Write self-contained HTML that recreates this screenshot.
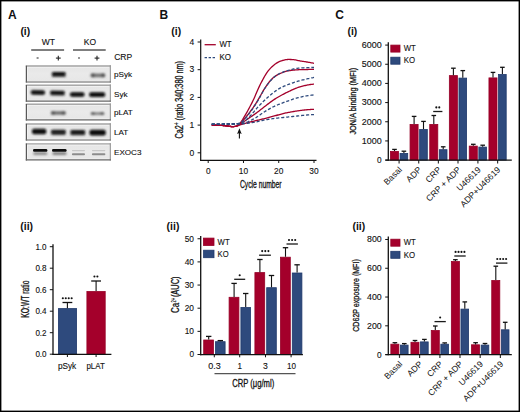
<!DOCTYPE html>
<html><head><meta charset="utf-8"><style>
html,body{margin:0;padding:0;background:#fff;overflow:hidden;width:520px;height:412px;}
svg{display:block;font-family:"Liberation Sans", sans-serif;}
</style></head><body>
<svg width="520" height="412" viewBox="0 0 520 412">
<rect width="520" height="412" fill="#fff"/>
<rect x="0.7" y="0.7" width="518.6" height="410.6" fill="none" stroke="#000" stroke-width="1.4"/>
<text x="8.0" y="19" font-size="12" font-weight="bold" fill="#111">A</text>
<text x="159.4" y="18.9" font-size="12" font-weight="bold" fill="#111">B</text>
<text x="335.2" y="19.1" font-size="12" font-weight="bold" fill="#111">C</text>
<text x="20.4" y="35.0" font-size="10" font-weight="bold" textLength="9.8" lengthAdjust="spacingAndGlyphs" fill="#111">(i)</text>
<text x="171.3" y="35.2" font-size="10" font-weight="bold" textLength="9.8" lengthAdjust="spacingAndGlyphs" fill="#111">(i)</text>
<text x="347.5" y="35.2" font-size="10" font-weight="bold" textLength="9.8" lengthAdjust="spacingAndGlyphs" fill="#111">(i)</text>
<text x="20.3" y="229.7" font-size="10" font-weight="bold" textLength="12.8" lengthAdjust="spacingAndGlyphs" fill="#111">(ii)</text>
<text x="166.6" y="229.7" font-size="10" font-weight="bold" textLength="12.8" lengthAdjust="spacingAndGlyphs" fill="#111">(ii)</text>
<text x="352.4" y="229.7" font-size="10" font-weight="bold" textLength="12.8" lengthAdjust="spacingAndGlyphs" fill="#111">(ii)</text>
<text x="48.4" y="44.6" font-size="8.5" text-anchor="middle" fill="#111" stroke="#111" stroke-width="0.12">WT</text>
<text x="90.0" y="44.5" font-size="8.5" text-anchor="middle" fill="#111" stroke="#111" stroke-width="0.12">KO</text>
<line x1="31.2" y1="50" x2="64.1" y2="50" stroke="#555" stroke-width="1.6"/>
<line x1="73" y1="50" x2="105.7" y2="50" stroke="#555" stroke-width="1.6"/>
<line x1="36.6" y1="58" x2="38.6" y2="58" stroke="#333" stroke-width="1.1"/>
<line x1="78.0" y1="58" x2="80.0" y2="58" stroke="#333" stroke-width="1.1"/>
<line x1="55.9" y1="58.1" x2="60.699999999999996" y2="58.1" stroke="#222" stroke-width="1.1"/>
<line x1="58.3" y1="55.7" x2="58.3" y2="60.5" stroke="#222" stroke-width="1.1"/>
<line x1="94.6" y1="58.1" x2="99.4" y2="58.1" stroke="#222" stroke-width="1.1"/>
<line x1="97" y1="55.7" x2="97" y2="60.5" stroke="#222" stroke-width="1.1"/>
<text x="114.2" y="60.2" font-size="8.5" fill="#111" stroke="#111" stroke-width="0.12">CRP</text>
<defs><filter id="bl" x="-50%" y="-50%" width="200%" height="200%"><feGaussianBlur stdDeviation="0.75"/></filter><filter id="bl2" x="-50%" y="-50%" width="200%" height="200%"><feGaussianBlur stdDeviation="0.6"/></filter><linearGradient id="bg" x1="0" y1="0" x2="0" y2="1"><stop offset="0" stop-color="#e4e4e4"/><stop offset="0.5" stop-color="#eaeaea"/><stop offset="1" stop-color="#e6e6e6"/></linearGradient></defs>
<rect x="25.80" y="65.30" width="85.10" height="17.30" fill="url(#bg)"/>
<rect x="27.30" y="67.20" width="82.10" height="14.00" fill="none" stroke="#f6f6f6" stroke-width="0.7"/>
<line x1="25.8" y1="66.0" x2="110.9" y2="66.0" stroke="#a9a9a9" stroke-width="1.4"/>
<line x1="110.3" y1="65.3" x2="110.3" y2="82.6" stroke="#999" stroke-width="1.2"/>
<line x1="26.4" y1="65.7" x2="26.4" y2="82.6" stroke="#585858" stroke-width="1.2"/>
<line x1="25.8" y1="82.0" x2="110.9" y2="82.0" stroke="#6c6c6c" stroke-width="1.2"/>
<text x="114.0" y="77.35" font-size="8.1" fill="#111" stroke="#111" stroke-width="0.12">pSyk</text>
<rect x="25.80" y="84.60" width="85.10" height="17.10" fill="url(#bg)"/>
<rect x="27.30" y="86.50" width="82.10" height="13.80" fill="none" stroke="#f6f6f6" stroke-width="0.7"/>
<line x1="25.8" y1="85.3" x2="110.9" y2="85.3" stroke="#a9a9a9" stroke-width="1.4"/>
<line x1="110.3" y1="84.6" x2="110.3" y2="101.7" stroke="#999" stroke-width="1.2"/>
<line x1="26.4" y1="85.0" x2="26.4" y2="101.7" stroke="#585858" stroke-width="1.2"/>
<line x1="25.8" y1="101.10000000000001" x2="110.9" y2="101.10000000000001" stroke="#6c6c6c" stroke-width="1.2"/>
<text x="114.0" y="96.55000000000001" font-size="8.1" fill="#111" stroke="#111" stroke-width="0.12">Syk</text>
<rect x="25.80" y="103.60" width="85.10" height="16.80" fill="url(#bg)"/>
<rect x="27.30" y="105.50" width="82.10" height="13.50" fill="none" stroke="#f6f6f6" stroke-width="0.7"/>
<line x1="25.8" y1="104.3" x2="110.9" y2="104.3" stroke="#a9a9a9" stroke-width="1.4"/>
<line x1="110.3" y1="103.6" x2="110.3" y2="120.4" stroke="#999" stroke-width="1.2"/>
<line x1="26.4" y1="104.0" x2="26.4" y2="120.4" stroke="#585858" stroke-width="1.2"/>
<line x1="25.8" y1="119.80000000000001" x2="110.9" y2="119.80000000000001" stroke="#6c6c6c" stroke-width="1.2"/>
<text x="114.0" y="115.4" font-size="8.1" fill="#111" stroke="#111" stroke-width="0.12">pLAT</text>
<rect x="25.80" y="123.30" width="85.10" height="17.30" fill="url(#bg)"/>
<rect x="27.30" y="125.20" width="82.10" height="14.00" fill="none" stroke="#f6f6f6" stroke-width="0.7"/>
<line x1="25.8" y1="124.0" x2="110.9" y2="124.0" stroke="#a9a9a9" stroke-width="1.4"/>
<line x1="110.3" y1="123.3" x2="110.3" y2="140.6" stroke="#999" stroke-width="1.2"/>
<line x1="26.4" y1="123.7" x2="26.4" y2="140.6" stroke="#585858" stroke-width="1.2"/>
<line x1="25.8" y1="140.0" x2="110.9" y2="140.0" stroke="#6c6c6c" stroke-width="1.2"/>
<text x="114.0" y="135.35" font-size="8.1" fill="#111" stroke="#111" stroke-width="0.12">LAT</text>
<rect x="25.80" y="143.20" width="85.10" height="17.20" fill="url(#bg)"/>
<rect x="27.30" y="145.10" width="82.10" height="13.90" fill="none" stroke="#f6f6f6" stroke-width="0.7"/>
<line x1="25.8" y1="143.89999999999998" x2="110.9" y2="143.89999999999998" stroke="#a9a9a9" stroke-width="1.4"/>
<line x1="110.3" y1="143.2" x2="110.3" y2="160.4" stroke="#999" stroke-width="1.2"/>
<line x1="26.4" y1="143.6" x2="26.4" y2="160.4" stroke="#585858" stroke-width="1.2"/>
<line x1="25.8" y1="159.8" x2="110.9" y2="159.8" stroke="#6c6c6c" stroke-width="1.2"/>
<text x="114.0" y="155.20000000000002" font-size="8.1" fill="#111" stroke="#111" stroke-width="0.12">EXOC3</text>
<defs><filter id="b50" x="-30%" y="-150%" width="160%" height="400%"><feGaussianBlur stdDeviation="0.5"/></filter><filter id="b60" x="-30%" y="-150%" width="160%" height="400%"><feGaussianBlur stdDeviation="0.6"/></filter><filter id="b70" x="-30%" y="-150%" width="160%" height="400%"><feGaussianBlur stdDeviation="0.7"/></filter><filter id="b80" x="-30%" y="-150%" width="160%" height="400%"><feGaussianBlur stdDeviation="0.8"/></filter><filter id="b90" x="-30%" y="-150%" width="160%" height="400%"><feGaussianBlur stdDeviation="0.9"/></filter><filter id="b100" x="-30%" y="-150%" width="160%" height="400%"><feGaussianBlur stdDeviation="1.0"/></filter><filter id="b110" x="-30%" y="-150%" width="160%" height="400%"><feGaussianBlur stdDeviation="1.1"/></filter></defs>
<g filter="url(#b90)" transform="rotate(0.0 58.75 74.50)"><rect x="51.70" y="74.50" width="14.10" height="2.50" rx="1.8" fill="#333"/><rect x="51.70" y="72.00" width="14.10" height="3.00" rx="1.8" fill="#080808"/></g>
<g filter="url(#b90)" transform="rotate(0.0 97.95 75.30)"><rect x="90.80" y="73.40" width="14.30" height="3.80" rx="1.90" fill="#767676"/><rect x="90.80" y="73.40" width="4" height="3.80" rx="1" fill="#555"/><rect x="101.10" y="73.40" width="4" height="3.80" rx="1" fill="#555"/></g>
<g filter="url(#b90)" transform="rotate(1.2 37.90 92.40)"><rect x="30.70" y="90.15" width="14.40" height="4.50" rx="2.20" fill="#080808"/></g>
<g filter="url(#b90)" transform="rotate(1.0 57.45 93.10)"><rect x="50.10" y="93.10" width="14.70" height="2.35" rx="1.8" fill="#282828"/><rect x="50.10" y="90.75" width="14.70" height="2.82" rx="1.8" fill="#080808"/></g>
<g filter="url(#b90)" transform="rotate(0.0 77.25 94.50)"><rect x="69.90" y="92.30" width="14.70" height="4.40" rx="2.20" fill="#080808"/></g>
<g filter="url(#b90)" transform="rotate(0.0 97.20 94.70)"><rect x="89.10" y="92.35" width="16.20" height="4.70" rx="2.20" fill="#080808"/></g>
<g filter="url(#b80)" transform="rotate(0.0 58.30 113.00)"><rect x="51.00" y="111.20" width="14.60" height="3.60" rx="1.80" fill="#707070"/><rect x="51.00" y="111.20" width="4" height="3.60" rx="1" fill="#5a5a5a"/><rect x="61.60" y="111.20" width="4" height="3.60" rx="1" fill="#5a5a5a"/></g>
<g filter="url(#b80)" transform="rotate(0.0 97.55 113.60)"><rect x="90.90" y="112.15" width="13.30" height="2.90" rx="1.45" fill="#858585"/><rect x="90.90" y="112.15" width="4" height="2.90" rx="1" fill="#5e5e5e"/><rect x="100.20" y="112.15" width="4" height="2.90" rx="1" fill="#5e5e5e"/></g>
<g filter="url(#b100)" transform="rotate(0.0 39.15 131.50)"><rect x="31.90" y="128.70" width="14.50" height="5.60" rx="2.20" fill="#101010"/></g>
<g filter="url(#b100)" transform="rotate(0.0 58.45 132.30)"><rect x="50.90" y="132.30" width="15.10" height="2.60" rx="1.8" fill="#2c2c2c"/><rect x="50.90" y="129.70" width="15.10" height="3.12" rx="1.8" fill="#181818"/></g>
<g filter="url(#b100)" transform="rotate(0.0 77.80 132.60)"><rect x="70.20" y="132.60" width="15.20" height="2.60" rx="1.8" fill="#2a2a2a"/><rect x="70.20" y="130.00" width="15.20" height="3.12" rx="1.8" fill="#161616"/></g>
<g filter="url(#b100)" transform="rotate(0.0 97.60 132.60)"><rect x="89.40" y="129.70" width="16.40" height="5.80" rx="2.20" fill="#0c0c0c"/></g>
<g filter="url(#b80)" transform="rotate(0.0 40.30 153.50)"><rect x="33.20" y="152.00" width="14.20" height="3.00" rx="1.50" fill="#8e8e8e"/></g>
<g filter="url(#b80)" transform="rotate(0.0 59.50 153.50)"><rect x="52.40" y="152.00" width="14.20" height="3.00" rx="1.50" fill="#808080"/></g>
<g filter="url(#b60)" transform="rotate(0.0 40.20 150.40)"><rect x="33.00" y="149.05" width="14.40" height="2.70" rx="1.35" fill="#0a0a0a"/></g>
<g filter="url(#b60)" transform="rotate(0.0 59.30 150.40)"><rect x="52.00" y="149.05" width="14.60" height="2.70" rx="1.35" fill="#0a0a0a"/></g>
<g filter="url(#b60)" transform="rotate(0.0 78.45 150.60)"><rect x="71.90" y="149.90" width="13.10" height="1.40" rx="0.70" fill="#c8c8c8"/></g>
<g filter="url(#b60)" transform="rotate(0.0 78.45 154.30)"><rect x="71.90" y="153.35" width="13.10" height="1.90" rx="0.95" fill="#8c8c8c"/></g>
<g filter="url(#b60)" transform="rotate(0.0 98.65 150.60)"><rect x="91.90" y="149.90" width="13.50" height="1.40" rx="0.70" fill="#c8c8c8"/></g>
<g filter="url(#b60)" transform="rotate(0.0 98.65 154.30)"><rect x="91.90" y="153.35" width="13.50" height="1.90" rx="0.95" fill="#8c8c8c"/></g>
<line x1="49.8" y1="354.2" x2="53.0" y2="354.2" stroke="#111" stroke-width="1.0"/>
<text x="46.6" y="357.09999999999997" font-size="8.2" text-anchor="end" textLength="11.2" lengthAdjust="spacingAndGlyphs" fill="#111" stroke="#111" stroke-width="0.12">0.0</text>
<line x1="49.8" y1="332.7" x2="53.0" y2="332.7" stroke="#111" stroke-width="1.0"/>
<text x="46.6" y="335.59999999999997" font-size="8.2" text-anchor="end" textLength="11.2" lengthAdjust="spacingAndGlyphs" fill="#111" stroke="#111" stroke-width="0.12">0.2</text>
<line x1="49.8" y1="311.2" x2="53.0" y2="311.2" stroke="#111" stroke-width="1.0"/>
<text x="46.6" y="314.09999999999997" font-size="8.2" text-anchor="end" textLength="11.2" lengthAdjust="spacingAndGlyphs" fill="#111" stroke="#111" stroke-width="0.12">0.4</text>
<line x1="49.8" y1="289.7" x2="53.0" y2="289.7" stroke="#111" stroke-width="1.0"/>
<text x="46.6" y="292.59999999999997" font-size="8.2" text-anchor="end" textLength="11.2" lengthAdjust="spacingAndGlyphs" fill="#111" stroke="#111" stroke-width="0.12">0.6</text>
<line x1="49.8" y1="268.2" x2="53.0" y2="268.2" stroke="#111" stroke-width="1.0"/>
<text x="46.6" y="271.09999999999997" font-size="8.2" text-anchor="end" textLength="11.2" lengthAdjust="spacingAndGlyphs" fill="#111" stroke="#111" stroke-width="0.12">0.8</text>
<line x1="49.8" y1="246.7" x2="53.0" y2="246.7" stroke="#111" stroke-width="1.0"/>
<text x="46.6" y="249.6" font-size="8.2" text-anchor="end" textLength="11.2" lengthAdjust="spacingAndGlyphs" fill="#111" stroke="#111" stroke-width="0.12">1.0</text>
<text transform="translate(28.6,299.2) rotate(-90)" x="0" y="0" font-size="10" text-anchor="middle" textLength="37.2" lengthAdjust="spacingAndGlyphs" fill="#111" stroke="#111" stroke-width="0.3">KO:WT ratio</text>
<rect x="58.40" y="308.60" width="18.20" height="45.60" fill="#2e4a7d" stroke="#1f386b" stroke-width="0.8"/>
<rect x="86.90" y="291.50" width="18.30" height="62.70" fill="#a4002b" stroke="#970027" stroke-width="0.8"/>
<line x1="67.4" y1="302.5" x2="67.4" y2="308.2" stroke="#111" stroke-width="1.1"/>
<line x1="62.50000000000001" y1="302.5" x2="72.30000000000001" y2="302.5" stroke="#111" stroke-width="1.3"/>
<line x1="96.1" y1="281.0" x2="96.1" y2="291.1" stroke="#111" stroke-width="1.1"/>
<line x1="91.19999999999999" y1="281.0" x2="101.0" y2="281.0" stroke="#111" stroke-width="1.3"/>
<circle cx="62.83" cy="298.20" r="1.05" fill="#111"/>
<circle cx="65.78" cy="298.20" r="1.05" fill="#111"/>
<circle cx="68.73" cy="298.20" r="1.05" fill="#111"/>
<circle cx="71.68" cy="298.20" r="1.05" fill="#111"/>
<line x1="53.0" y1="244.3" x2="53.0" y2="354.9" stroke="#111" stroke-width="1.3"/>
<line x1="52.4" y1="354.3" x2="111.4" y2="354.3" stroke="#111" stroke-width="1.3"/>
<circle cx="94.43" cy="276.50" r="1.05" fill="#111"/>
<circle cx="97.38" cy="276.50" r="1.05" fill="#111"/>
<line x1="67.4" y1="354.2" x2="67.4" y2="357" stroke="#111" stroke-width="1.0"/>
<line x1="96.1" y1="354.2" x2="96.1" y2="357" stroke="#111" stroke-width="1.0"/>
<text x="67.1" y="369.0" font-size="8.5" text-anchor="middle" textLength="18.3" lengthAdjust="spacingAndGlyphs" fill="#111" stroke="#111" stroke-width="0.12">pSyk</text>
<text x="95.6" y="369.0" font-size="8.5" text-anchor="middle" textLength="18.4" lengthAdjust="spacingAndGlyphs" fill="#111" stroke="#111" stroke-width="0.12">pLAT</text>
<line x1="200.7" y1="39.6" x2="200.7" y2="160.9" stroke="#111" stroke-width="1.2"/>
<line x1="200.1" y1="160.3" x2="316.5" y2="160.3" stroke="#111" stroke-width="1.2"/>
<line x1="197.6" y1="152.8" x2="200.7" y2="152.8" stroke="#111" stroke-width="1.0"/>
<text x="194.2" y="155.5" font-size="8.5" text-anchor="end" fill="#111" stroke="#111" stroke-width="0.12">0</text>
<line x1="197.6" y1="125.10000000000001" x2="200.7" y2="125.10000000000001" stroke="#111" stroke-width="1.0"/>
<text x="194.2" y="127.80000000000001" font-size="8.5" text-anchor="end" fill="#111" stroke="#111" stroke-width="0.12">1</text>
<line x1="197.6" y1="97.4" x2="200.7" y2="97.4" stroke="#111" stroke-width="1.0"/>
<text x="194.2" y="100.10000000000001" font-size="8.5" text-anchor="end" fill="#111" stroke="#111" stroke-width="0.12">2</text>
<line x1="197.6" y1="69.70000000000002" x2="200.7" y2="69.70000000000002" stroke="#111" stroke-width="1.0"/>
<text x="194.2" y="72.40000000000002" font-size="8.5" text-anchor="end" fill="#111" stroke="#111" stroke-width="0.12">3</text>
<line x1="197.6" y1="42.000000000000014" x2="200.7" y2="42.000000000000014" stroke="#111" stroke-width="1.0"/>
<text x="194.2" y="44.70000000000002" font-size="8.5" text-anchor="end" fill="#111" stroke="#111" stroke-width="0.12">4</text>
<line x1="208.2" y1="160.3" x2="208.2" y2="163.0" stroke="#111" stroke-width="1.0"/>
<text x="208.2" y="174.3" font-size="8.5" text-anchor="middle" textLength="4.6" lengthAdjust="spacingAndGlyphs" fill="#111" stroke="#111" stroke-width="0.12">0</text>
<line x1="243.47" y1="160.3" x2="243.47" y2="163.0" stroke="#111" stroke-width="1.0"/>
<text x="243.47" y="174.3" font-size="8.5" text-anchor="middle" textLength="9.3" lengthAdjust="spacingAndGlyphs" fill="#111" stroke="#111" stroke-width="0.12">10</text>
<line x1="278.74" y1="160.3" x2="278.74" y2="163.0" stroke="#111" stroke-width="1.0"/>
<text x="278.74" y="174.3" font-size="8.5" text-anchor="middle" textLength="9.3" lengthAdjust="spacingAndGlyphs" fill="#111" stroke="#111" stroke-width="0.12">20</text>
<line x1="314.01" y1="160.3" x2="314.01" y2="163.0" stroke="#111" stroke-width="1.0"/>
<text x="314.01" y="174.3" font-size="8.5" text-anchor="middle" textLength="9.3" lengthAdjust="spacingAndGlyphs" fill="#111" stroke="#111" stroke-width="0.12">30</text>
<text x="260.8" y="188.3" font-size="10" text-anchor="middle" textLength="41.6" lengthAdjust="spacingAndGlyphs" fill="#111" stroke="#111" stroke-width="0.3">Cycle number</text>
<text transform="translate(182.9,99.8) rotate(-90)" font-size="10.4" text-anchor="middle" textLength="77.6" lengthAdjust="spacingAndGlyphs" fill="#111" stroke="#111" stroke-width="0.3">Ca2<tspan font-size="7" dy="-3.6">+</tspan><tspan dy="3.6"> (ratio 340:380 nm)</tspan></text>
<line x1="204.6" y1="44.7" x2="215.8" y2="44.7" stroke="#a4002b" stroke-width="1.3"/>
<text x="219.4" y="47.3" font-size="8.5" textLength="12.2" lengthAdjust="spacingAndGlyphs" fill="#111" stroke="#111" stroke-width="0.12">WT</text>
<line x1="204.6" y1="57.6" x2="215.8" y2="57.6" stroke="#2e4a7d" stroke-width="1.3" stroke-dasharray="2.4,1.6"/>
<text x="219.4" y="60.2" font-size="8.5" textLength="11.5" lengthAdjust="spacingAndGlyphs" fill="#111" stroke="#111" stroke-width="0.12">KO</text>
<line x1="239.4" y1="131.5" x2="239.4" y2="138.5" stroke="#111" stroke-width="1.1"/>
<path d="M239.4 128.3 L237.1 133.9 L239.4 133.0 L241.7 133.9 Z" fill="#111"/>
<path d="M211.73 125.10 L212.61 125.11 L213.49 125.11 L214.37 125.13 L215.25 125.14 L216.14 125.16 L217.02 125.19 L217.90 125.21 L218.78 125.24 L219.66 125.28 L220.54 125.33 L221.43 125.39 L222.31 125.46 L223.19 125.54 L224.07 125.62 L224.95 125.71 L225.83 125.80 L226.72 125.91 L227.60 126.04 L228.48 126.17 L229.36 126.31 L230.24 126.43 L231.13 126.52 L232.01 126.58 L232.89 126.59 L233.77 126.55 L234.65 126.46 L235.53 126.32 L236.42 126.08 L237.30 125.67 L238.18 125.07 L239.06 124.28 L239.94 123.34 L240.82 122.24 L241.71 120.99 L242.59 119.60 L243.47 118.13 L244.35 116.64 L245.23 115.14 L246.12 113.63 L247.00 112.08 L247.88 110.50 L248.76 108.89 L249.64 107.25 L250.52 105.57 L251.41 103.87 L252.29 102.11 L253.17 100.30 L254.05 98.41 L254.93 96.43 L255.81 94.36 L256.70 92.27 L257.58 90.23 L258.46 88.27 L259.34 86.39 L260.22 84.57 L261.11 82.81 L261.99 81.11 L262.87 79.45 L263.75 77.85 L264.63 76.30 L265.51 74.81 L266.40 73.42 L267.28 72.13 L268.16 70.95 L269.04 69.84 L269.92 68.82 L270.80 67.86 L271.69 66.98 L272.57 66.16 L273.45 65.39 L274.33 64.68 L275.21 64.02 L276.09 63.42 L276.98 62.87 L277.86 62.36 L278.74 61.90 L279.62 61.47 L280.50 61.10 L281.39 60.78 L282.27 60.50 L283.15 60.26 L284.03 60.04 L284.91 59.85 L285.79 59.68 L286.68 59.57 L287.56 59.50 L288.44 59.47 L289.32 59.47 L290.20 59.49 L291.08 59.52 L291.97 59.56 L292.85 59.61 L293.73 59.70 L294.61 59.82 L295.49 59.97 L296.38 60.16 L297.26 60.35 L298.14 60.54 L299.02 60.72 L299.90 60.89 L300.78 61.04 L301.67 61.18 L302.55 61.31 L303.43 61.44 L304.31 61.58 L305.19 61.71 L306.07 61.85 L306.96 61.99 L307.84 62.13 L308.72 62.29 L309.60 62.45 L310.48 62.62 L311.36 62.79 L312.25 62.97 L313.13 63.13 L314.01 63.33" fill="none" stroke="#a4002b" stroke-width="1.3" stroke-linejoin="round"/>
<path d="M211.73 125.10 L212.61 125.11 L213.49 125.11 L214.37 125.13 L215.25 125.14 L216.14 125.16 L217.02 125.19 L217.90 125.21 L218.78 125.24 L219.66 125.28 L220.54 125.33 L221.43 125.39 L222.31 125.46 L223.19 125.54 L224.07 125.62 L224.95 125.71 L225.83 125.80 L226.72 125.91 L227.60 126.04 L228.48 126.17 L229.36 126.31 L230.24 126.43 L231.13 126.52 L232.01 126.58 L232.89 126.59 L233.77 126.55 L234.65 126.46 L235.53 126.32 L236.42 126.09 L237.30 125.71 L238.18 125.16 L239.06 124.47 L239.94 123.70 L240.82 122.87 L241.71 121.99 L242.59 121.05 L243.47 120.05 L244.35 119.01 L245.23 117.94 L246.12 116.85 L247.00 115.75 L247.88 114.65 L248.76 113.53 L249.64 112.38 L250.52 111.21 L251.41 110.01 L252.29 108.79 L253.17 107.53 L254.05 106.24 L254.93 104.91 L255.81 103.53 L256.70 102.12 L257.58 100.67 L258.46 99.19 L259.34 97.67 L260.22 96.10 L261.11 94.52 L261.99 92.95 L262.87 91.42 L263.75 89.94 L264.63 88.52 L265.51 87.14 L266.40 85.82 L267.28 84.57 L268.16 83.37 L269.04 82.23 L269.92 81.15 L270.80 80.14 L271.69 79.20 L272.57 78.35 L273.45 77.58 L274.33 76.86 L275.21 76.20 L276.09 75.60 L276.98 75.06 L277.86 74.57 L278.74 74.13 L279.62 73.72 L280.50 73.34 L281.39 72.99 L282.27 72.64 L283.15 72.30 L284.03 71.97 L284.91 71.66 L285.79 71.37 L286.68 71.13 L287.56 70.92 L288.44 70.76 L289.32 70.62 L290.20 70.49 L291.08 70.38 L291.97 70.27 L292.85 70.18 L293.73 70.09 L294.61 70.00 L295.49 69.93 L296.38 69.87 L297.26 69.81 L298.14 69.76 L299.02 69.72 L299.90 69.69 L300.78 69.66 L301.67 69.63 L302.55 69.61 L303.43 69.58 L304.31 69.56 L305.19 69.54 L306.07 69.52 L306.96 69.50 L307.84 69.48 L308.72 69.47 L309.60 69.46 L310.48 69.44 L311.36 69.44 L312.25 69.43 L313.13 69.43 L314.01 69.42" fill="none" stroke="#a4002b" stroke-width="1.3" stroke-linejoin="round"/>
<path d="M211.73 125.10 L212.61 125.11 L213.49 125.11 L214.37 125.13 L215.25 125.14 L216.14 125.16 L217.02 125.19 L217.90 125.21 L218.78 125.24 L219.66 125.28 L220.54 125.33 L221.43 125.39 L222.31 125.46 L223.19 125.54 L224.07 125.62 L224.95 125.71 L225.83 125.80 L226.72 125.91 L227.60 126.04 L228.48 126.17 L229.36 126.31 L230.24 126.43 L231.13 126.52 L232.01 126.58 L232.89 126.58 L233.77 126.54 L234.65 126.46 L235.53 126.33 L236.42 126.12 L237.30 125.80 L238.18 125.36 L239.06 124.84 L239.94 124.28 L240.82 123.71 L241.71 123.14 L242.59 122.55 L243.47 121.95 L244.35 121.33 L245.23 120.71 L246.12 120.09 L247.00 119.47 L247.88 118.86 L248.76 118.25 L249.64 117.65 L250.52 117.05 L251.41 116.45 L252.29 115.85 L253.17 115.25 L254.05 114.64 L254.93 114.02 L255.81 113.39 L256.70 112.75 L257.58 112.10 L258.46 111.43 L259.34 110.75 L260.22 110.06 L261.11 109.36 L261.99 108.66 L262.87 107.97 L263.75 107.29 L264.63 106.61 L265.51 105.93 L266.40 105.24 L267.28 104.56 L268.16 103.88 L269.04 103.20 L269.92 102.53 L270.80 101.87 L271.69 101.23 L272.57 100.60 L273.45 99.99 L274.33 99.40 L275.21 98.83 L276.09 98.28 L276.98 97.74 L277.86 97.22 L278.74 96.71 L279.62 96.21 L280.50 95.72 L281.39 95.24 L282.27 94.76 L283.15 94.30 L284.03 93.84 L284.91 93.39 L285.79 92.95 L286.68 92.51 L287.56 92.08 L288.44 91.65 L289.32 91.23 L290.20 90.80 L291.08 90.37 L291.97 89.96 L292.85 89.55 L293.73 89.16 L294.61 88.79 L295.49 88.43 L296.38 88.09 L297.26 87.75 L298.14 87.43 L299.02 87.12 L299.90 86.83 L300.78 86.57 L301.67 86.33 L302.55 86.11 L303.43 85.90 L304.31 85.70 L305.19 85.50 L306.07 85.31 L306.96 85.13 L307.84 84.95 L308.72 84.79 L309.60 84.64 L310.48 84.51 L311.36 84.38 L312.25 84.28 L313.13 84.19 L314.01 84.10" fill="none" stroke="#a4002b" stroke-width="1.3" stroke-linejoin="round"/>
<path d="M211.73 125.10 L212.61 125.11 L213.49 125.11 L214.37 125.13 L215.25 125.14 L216.14 125.16 L217.02 125.19 L217.90 125.21 L218.78 125.24 L219.66 125.28 L220.54 125.33 L221.43 125.39 L222.31 125.46 L223.19 125.54 L224.07 125.62 L224.95 125.71 L225.83 125.80 L226.72 125.91 L227.60 126.04 L228.48 126.17 L229.36 126.31 L230.24 126.43 L231.13 126.52 L232.01 126.58 L232.89 126.58 L233.77 126.54 L234.65 126.46 L235.53 126.33 L236.42 126.15 L237.30 125.89 L238.18 125.56 L239.06 125.21 L239.94 124.86 L240.82 124.56 L241.71 124.29 L242.59 124.03 L243.47 123.79 L244.35 123.56 L245.23 123.33 L246.12 123.10 L247.00 122.88 L247.88 122.65 L248.76 122.43 L249.64 122.20 L250.52 121.98 L251.41 121.75 L252.29 121.53 L253.17 121.32 L254.05 121.10 L254.93 120.88 L255.81 120.67 L256.70 120.46 L257.58 120.25 L258.46 120.04 L259.34 119.84 L260.22 119.63 L261.11 119.42 L261.99 119.22 L262.87 119.00 L263.75 118.79 L264.63 118.57 L265.51 118.34 L266.40 118.11 L267.28 117.88 L268.16 117.64 L269.04 117.41 L269.92 117.17 L270.80 116.93 L271.69 116.69 L272.57 116.45 L273.45 116.21 L274.33 115.98 L275.21 115.74 L276.09 115.50 L276.98 115.25 L277.86 115.00 L278.74 114.76 L279.62 114.51 L280.50 114.27 L281.39 114.03 L282.27 113.80 L283.15 113.58 L284.03 113.37 L284.91 113.17 L285.79 112.98 L286.68 112.79 L287.56 112.61 L288.44 112.44 L289.32 112.27 L290.20 112.10 L291.08 111.94 L291.97 111.79 L292.85 111.64 L293.73 111.49 L294.61 111.35 L295.49 111.21 L296.38 111.07 L297.26 110.93 L298.14 110.80 L299.02 110.67 L299.90 110.54 L300.78 110.42 L301.67 110.30 L302.55 110.19 L303.43 110.08 L304.31 109.99 L305.19 109.90 L306.07 109.82 L306.96 109.75 L307.84 109.68 L308.72 109.61 L309.60 109.55 L310.48 109.49 L311.36 109.44 L312.25 109.39 L313.13 109.35 L314.01 109.31" fill="none" stroke="#a4002b" stroke-width="1.3" stroke-linejoin="round"/>
<path d="M211.73 124.27 L212.61 124.25 L213.49 124.23 L214.37 124.22 L215.25 124.20 L216.14 124.18 L217.02 124.17 L217.90 124.15 L218.78 124.13 L219.66 124.11 L220.54 124.09 L221.43 124.07 L222.31 124.05 L223.19 124.03 L224.07 124.01 L224.95 124.00 L225.83 123.99 L226.72 123.99 L227.60 123.99 L228.48 123.99 L229.36 123.99 L230.24 123.99 L231.13 123.99 L232.01 123.99 L232.89 123.99 L233.77 123.99 L234.65 123.96 L235.53 123.90 L236.42 123.78 L237.30 123.60 L238.18 123.35 L239.06 123.07 L239.94 122.73 L240.82 122.34 L241.71 121.83 L242.59 121.18 L243.47 120.37 L244.35 119.43 L245.23 118.41 L246.12 117.36 L247.00 116.30 L247.88 115.23 L248.76 114.13 L249.64 113.00 L250.52 111.83 L251.41 110.61 L252.29 109.37 L253.17 108.10 L254.05 106.80 L254.93 105.47 L255.81 104.10 L256.70 102.70 L257.58 101.25 L258.46 99.75 L259.34 98.19 L260.22 96.57 L261.11 94.92 L261.99 93.28 L262.87 91.71 L263.75 90.21 L264.63 88.77 L265.51 87.40 L266.40 86.09 L267.28 84.84 L268.16 83.66 L269.04 82.52 L269.92 81.45 L270.80 80.43 L271.69 79.49 L272.57 78.61 L273.45 77.79 L274.33 77.03 L275.21 76.32 L276.09 75.66 L276.98 75.07 L277.86 74.52 L278.74 74.02 L279.62 73.56 L280.50 73.13 L281.39 72.74 L282.27 72.37 L283.15 72.03 L284.03 71.70 L284.91 71.39 L285.79 71.10 L286.68 70.82 L287.56 70.55 L288.44 70.30 L289.32 70.06 L290.20 69.83 L291.08 69.62 L291.97 69.41 L292.85 69.20 L293.73 69.00 L294.61 68.80 L295.49 68.62 L296.38 68.46 L297.26 68.31 L298.14 68.19 L299.02 68.10 L299.90 68.02 L300.78 67.96 L301.67 67.90 L302.55 67.85 L303.43 67.80 L304.31 67.76 L305.19 67.71 L306.07 67.67 L306.96 67.63 L307.84 67.60 L308.72 67.57 L309.60 67.55 L310.48 67.53 L311.36 67.51 L312.25 67.50 L313.13 67.49 L314.01 67.48" fill="none" stroke="#2e4a7d" stroke-width="1.3" stroke-dasharray="3.1,1.9"/>
<path d="M211.73 124.27 L212.61 124.25 L213.49 124.23 L214.37 124.22 L215.25 124.20 L216.14 124.18 L217.02 124.17 L217.90 124.15 L218.78 124.13 L219.66 124.11 L220.54 124.09 L221.43 124.07 L222.31 124.05 L223.19 124.03 L224.07 124.01 L224.95 124.00 L225.83 123.99 L226.72 123.99 L227.60 123.99 L228.48 123.99 L229.36 123.99 L230.24 123.99 L231.13 123.99 L232.01 123.99 L232.89 123.99 L233.77 123.99 L234.65 123.98 L235.53 123.95 L236.42 123.89 L237.30 123.80 L238.18 123.68 L239.06 123.53 L239.94 123.37 L240.82 123.15 L241.71 122.87 L242.59 122.48 L243.47 121.98 L244.35 121.36 L245.23 120.66 L246.12 119.88 L247.00 119.06 L247.88 118.20 L248.76 117.34 L249.64 116.47 L250.52 115.58 L251.41 114.64 L252.29 113.66 L253.17 112.62 L254.05 111.55 L254.93 110.49 L255.81 109.44 L256.70 108.43 L257.58 107.44 L258.46 106.48 L259.34 105.54 L260.22 104.60 L261.11 103.68 L261.99 102.78 L262.87 101.90 L263.75 101.03 L264.63 100.18 L265.51 99.36 L266.40 98.55 L267.28 97.76 L268.16 96.98 L269.04 96.22 L269.92 95.47 L270.80 94.73 L271.69 94.01 L272.57 93.30 L273.45 92.60 L274.33 91.91 L275.21 91.25 L276.09 90.61 L276.98 90.01 L277.86 89.45 L278.74 88.91 L279.62 88.40 L280.50 87.92 L281.39 87.46 L282.27 87.03 L283.15 86.61 L284.03 86.21 L284.91 85.83 L285.79 85.45 L286.68 85.09 L287.56 84.74 L288.44 84.40 L289.32 84.07 L290.20 83.74 L291.08 83.43 L291.97 83.12 L292.85 82.82 L293.73 82.53 L294.61 82.24 L295.49 81.96 L296.38 81.69 L297.26 81.43 L298.14 81.18 L299.02 80.93 L299.90 80.69 L300.78 80.45 L301.67 80.22 L302.55 79.99 L303.43 79.77 L304.31 79.55 L305.19 79.33 L306.07 79.12 L306.96 78.92 L307.84 78.71 L308.72 78.52 L309.60 78.33 L310.48 78.14 L311.36 77.96 L312.25 77.79 L313.13 77.64 L314.01 77.46" fill="none" stroke="#2e4a7d" stroke-width="1.3" stroke-dasharray="3.1,1.9"/>
<path d="M211.73 124.27 L212.61 124.25 L213.49 124.23 L214.37 124.22 L215.25 124.20 L216.14 124.18 L217.02 124.17 L217.90 124.15 L218.78 124.13 L219.66 124.11 L220.54 124.09 L221.43 124.07 L222.31 124.05 L223.19 124.03 L224.07 124.01 L224.95 124.00 L225.83 123.99 L226.72 123.99 L227.60 123.99 L228.48 123.99 L229.36 123.99 L230.24 123.99 L231.13 123.99 L232.01 123.99 L232.89 123.99 L233.77 123.99 L234.65 123.99 L235.53 123.98 L236.42 123.96 L237.30 123.93 L238.18 123.89 L239.06 123.84 L239.94 123.78 L240.82 123.71 L241.71 123.61 L242.59 123.47 L243.47 123.29 L244.35 123.05 L245.23 122.77 L246.12 122.46 L247.00 122.11 L247.88 121.74 L248.76 121.34 L249.64 120.92 L250.52 120.49 L251.41 120.06 L252.29 119.61 L253.17 119.17 L254.05 118.71 L254.93 118.23 L255.81 117.72 L256.70 117.16 L257.58 116.57 L258.46 115.95 L259.34 115.32 L260.22 114.68 L261.11 114.04 L261.99 113.42 L262.87 112.82 L263.75 112.25 L264.63 111.70 L265.51 111.16 L266.40 110.63 L267.28 110.11 L268.16 109.59 L269.04 109.08 L269.92 108.59 L270.80 108.10 L271.69 107.63 L272.57 107.17 L273.45 106.73 L274.33 106.31 L275.21 105.90 L276.09 105.51 L276.98 105.13 L277.86 104.77 L278.74 104.41 L279.62 104.06 L280.50 103.72 L281.39 103.38 L282.27 103.05 L283.15 102.72 L284.03 102.40 L284.91 102.07 L285.79 101.74 L286.68 101.41 L287.56 101.09 L288.44 100.77 L289.32 100.45 L290.20 100.13 L291.08 99.82 L291.97 99.53 L292.85 99.24 L293.73 98.96 L294.61 98.69 L295.49 98.43 L296.38 98.18 L297.26 97.94 L298.14 97.70 L299.02 97.46 L299.90 97.24 L300.78 97.02 L301.67 96.81 L302.55 96.61 L303.43 96.42 L304.31 96.25 L305.19 96.08 L306.07 95.93 L306.96 95.79 L307.84 95.65 L308.72 95.52 L309.60 95.40 L310.48 95.28 L311.36 95.18 L312.25 95.08 L313.13 95.00 L314.01 94.91" fill="none" stroke="#2e4a7d" stroke-width="1.3" stroke-dasharray="3.1,1.9"/>
<path d="M211.73 124.27 L212.61 124.25 L213.49 124.23 L214.37 124.22 L215.25 124.20 L216.14 124.18 L217.02 124.17 L217.90 124.15 L218.78 124.13 L219.66 124.11 L220.54 124.09 L221.43 124.07 L222.31 124.05 L223.19 124.03 L224.07 124.01 L224.95 124.00 L225.83 123.99 L226.72 123.99 L227.60 123.99 L228.48 123.99 L229.36 123.99 L230.24 123.99 L231.13 123.99 L232.01 123.99 L232.89 123.99 L233.77 123.99 L234.65 123.99 L235.53 123.98 L236.42 123.97 L237.30 123.96 L238.18 123.94 L239.06 123.91 L239.94 123.89 L240.82 123.86 L241.71 123.82 L242.59 123.77 L243.47 123.71 L244.35 123.63 L245.23 123.55 L246.12 123.45 L247.00 123.35 L247.88 123.24 L248.76 123.12 L249.64 123.00 L250.52 122.87 L251.41 122.74 L252.29 122.60 L253.17 122.47 L254.05 122.32 L254.93 122.17 L255.81 122.00 L256.70 121.81 L257.58 121.61 L258.46 121.40 L259.34 121.18 L260.22 120.96 L261.11 120.75 L261.99 120.55 L262.87 120.35 L263.75 120.17 L264.63 120.00 L265.51 119.84 L266.40 119.68 L267.28 119.53 L268.16 119.38 L269.04 119.24 L269.92 119.09 L270.80 118.96 L271.69 118.83 L272.57 118.70 L273.45 118.58 L274.33 118.46 L275.21 118.35 L276.09 118.25 L276.98 118.15 L277.86 118.05 L278.74 117.96 L279.62 117.87 L280.50 117.78 L281.39 117.69 L282.27 117.60 L283.15 117.51 L284.03 117.42 L284.91 117.33 L285.79 117.24 L286.68 117.15 L287.56 117.05 L288.44 116.96 L289.32 116.86 L290.20 116.77 L291.08 116.68 L291.97 116.58 L292.85 116.49 L293.73 116.39 L294.61 116.30 L295.49 116.20 L296.38 116.11 L297.26 116.01 L298.14 115.91 L299.02 115.80 L299.90 115.70 L300.78 115.60 L301.67 115.51 L302.55 115.41 L303.43 115.32 L304.31 115.24 L305.19 115.16 L306.07 115.09 L306.96 115.02 L307.84 114.95 L308.72 114.89 L309.60 114.83 L310.48 114.77 L311.36 114.72 L312.25 114.67 L313.13 114.62 L314.01 114.57" fill="none" stroke="#2e4a7d" stroke-width="1.3" stroke-dasharray="3.1,1.9"/>
<line x1="197.5" y1="354.5" x2="200.7" y2="354.5" stroke="#111" stroke-width="1.0"/>
<text x="194.0" y="357.4" font-size="8.5" text-anchor="end" textLength="4.6" lengthAdjust="spacingAndGlyphs" fill="#111" stroke="#111" stroke-width="0.12">0</text>
<line x1="197.5" y1="331.35" x2="200.7" y2="331.35" stroke="#111" stroke-width="1.0"/>
<text x="194.0" y="334.25" font-size="8.5" text-anchor="end" textLength="9.3" lengthAdjust="spacingAndGlyphs" fill="#111" stroke="#111" stroke-width="0.12">10</text>
<line x1="197.5" y1="308.2" x2="200.7" y2="308.2" stroke="#111" stroke-width="1.0"/>
<text x="194.0" y="311.09999999999997" font-size="8.5" text-anchor="end" textLength="9.3" lengthAdjust="spacingAndGlyphs" fill="#111" stroke="#111" stroke-width="0.12">20</text>
<line x1="197.5" y1="285.05" x2="200.7" y2="285.05" stroke="#111" stroke-width="1.0"/>
<text x="194.0" y="287.95" font-size="8.5" text-anchor="end" textLength="9.3" lengthAdjust="spacingAndGlyphs" fill="#111" stroke="#111" stroke-width="0.12">30</text>
<line x1="197.5" y1="261.9" x2="200.7" y2="261.9" stroke="#111" stroke-width="1.0"/>
<text x="194.0" y="264.79999999999995" font-size="8.5" text-anchor="end" textLength="9.3" lengthAdjust="spacingAndGlyphs" fill="#111" stroke="#111" stroke-width="0.12">40</text>
<line x1="197.5" y1="238.75" x2="200.7" y2="238.75" stroke="#111" stroke-width="1.0"/>
<text x="194.0" y="241.65" font-size="8.5" text-anchor="end" textLength="9.3" lengthAdjust="spacingAndGlyphs" fill="#111" stroke="#111" stroke-width="0.12">50</text>
<text transform="translate(178.9,313.0) rotate(-90)" font-size="10.2" textLength="10.2" lengthAdjust="spacingAndGlyphs" fill="#111" stroke="#111" stroke-width="0.3">Ca</text><text transform="translate(175.6,302.6) rotate(-90)" font-size="7.2" textLength="4.6" lengthAdjust="spacingAndGlyphs" fill="#111" stroke="#111" stroke-width="0.2">2+</text><text transform="translate(178.9,297.1) rotate(-90)" font-size="10.2" textLength="20.6" lengthAdjust="spacingAndGlyphs" fill="#111" stroke="#111" stroke-width="0.3">(AUC)</text>
<rect x="203.40" y="238.10" width="10.60" height="7.40" fill="#a4002b" stroke="#970027" stroke-width="0.8"/>
<rect x="203.60" y="250.20" width="10.40" height="7.50" fill="#2e4a7d" stroke="#1f386b" stroke-width="0.8"/>
<text x="217.6" y="244.6" font-size="8.5" textLength="12" lengthAdjust="spacingAndGlyphs" fill="#111" stroke="#111" stroke-width="0.12">WT</text>
<text x="217.6" y="256.9" font-size="8.5" textLength="11" lengthAdjust="spacingAndGlyphs" fill="#111" stroke="#111" stroke-width="0.12">KO</text>
<rect x="203.70" y="340.00" width="9.80" height="14.60" fill="#a4002b" stroke="#970027" stroke-width="0.8"/>
<rect x="215.50" y="341.70" width="9.60" height="12.90" fill="#2e4a7d" stroke="#1f386b" stroke-width="0.8"/>
<line x1="208.70000000000002" y1="336.4" x2="208.70000000000002" y2="339.6" stroke="#111" stroke-width="1.1"/>
<line x1="206.00000000000003" y1="336.4" x2="211.4" y2="336.4" stroke="#111" stroke-width="1.3"/>
<line x1="220.3" y1="340.6" x2="220.3" y2="341.3" stroke="#111" stroke-width="1.1"/>
<line x1="217.60000000000002" y1="340.6" x2="223.0" y2="340.6" stroke="#111" stroke-width="1.3"/>
<line x1="214.3" y1="354.6" x2="214.3" y2="357.3" stroke="#111" stroke-width="1.0"/>
<rect x="229.10" y="297.30" width="9.80" height="57.30" fill="#a4002b" stroke="#970027" stroke-width="0.8"/>
<rect x="240.90" y="307.50" width="9.60" height="47.10" fill="#2e4a7d" stroke="#1f386b" stroke-width="0.8"/>
<line x1="234.1" y1="283.4" x2="234.1" y2="296.9" stroke="#111" stroke-width="1.1"/>
<line x1="231.4" y1="283.4" x2="236.79999999999998" y2="283.4" stroke="#111" stroke-width="1.3"/>
<line x1="245.7" y1="293.5" x2="245.7" y2="307.1" stroke="#111" stroke-width="1.1"/>
<line x1="243.0" y1="293.5" x2="248.39999999999998" y2="293.5" stroke="#111" stroke-width="1.3"/>
<line x1="239.7" y1="354.6" x2="239.7" y2="357.3" stroke="#111" stroke-width="1.0"/>
<rect x="254.90" y="272.60" width="9.80" height="82.00" fill="#a4002b" stroke="#970027" stroke-width="0.8"/>
<rect x="266.70" y="287.70" width="9.60" height="66.90" fill="#2e4a7d" stroke="#1f386b" stroke-width="0.8"/>
<line x1="259.9" y1="259.5" x2="259.9" y2="272.2" stroke="#111" stroke-width="1.1"/>
<line x1="257.2" y1="259.5" x2="262.59999999999997" y2="259.5" stroke="#111" stroke-width="1.3"/>
<line x1="271.5" y1="275.5" x2="271.5" y2="287.3" stroke="#111" stroke-width="1.1"/>
<line x1="268.8" y1="275.5" x2="274.2" y2="275.5" stroke="#111" stroke-width="1.3"/>
<line x1="265.5" y1="354.6" x2="265.5" y2="357.3" stroke="#111" stroke-width="1.0"/>
<rect x="280.50" y="257.20" width="9.80" height="97.40" fill="#a4002b" stroke="#970027" stroke-width="0.8"/>
<rect x="292.30" y="273.00" width="9.60" height="81.60" fill="#2e4a7d" stroke="#1f386b" stroke-width="0.8"/>
<line x1="285.5" y1="247.7" x2="285.5" y2="256.8" stroke="#111" stroke-width="1.1"/>
<line x1="282.8" y1="247.7" x2="288.2" y2="247.7" stroke="#111" stroke-width="1.3"/>
<line x1="297.1" y1="264.8" x2="297.1" y2="272.6" stroke="#111" stroke-width="1.1"/>
<line x1="294.40000000000003" y1="264.8" x2="299.8" y2="264.8" stroke="#111" stroke-width="1.3"/>
<line x1="291.1" y1="354.6" x2="291.1" y2="357.3" stroke="#111" stroke-width="1.0"/>
<line x1="200.7" y1="236.0" x2="200.7" y2="355.2" stroke="#111" stroke-width="1.3"/>
<line x1="200.1" y1="354.6" x2="302.9" y2="354.6" stroke="#111" stroke-width="1.3"/>
<text x="214.4" y="369.0" font-size="8.5" text-anchor="middle" textLength="12.5" lengthAdjust="spacingAndGlyphs" fill="#111" stroke="#111" stroke-width="0.12">0.3</text>
<text x="239.7" y="369.0" font-size="8.5" text-anchor="middle" textLength="4.5" lengthAdjust="spacingAndGlyphs" fill="#111" stroke="#111" stroke-width="0.12">1</text>
<text x="265.5" y="369.0" font-size="8.5" text-anchor="middle" textLength="4.8" lengthAdjust="spacingAndGlyphs" fill="#111" stroke="#111" stroke-width="0.12">3</text>
<text x="291.6" y="369.0" font-size="8.5" text-anchor="middle" textLength="9.0" lengthAdjust="spacingAndGlyphs" fill="#111" stroke="#111" stroke-width="0.12">10</text>
<line x1="214.5" y1="373.7" x2="295.5" y2="373.7" stroke="#555" stroke-width="1.3"/>
<text x="253.2" y="387.3" font-size="10" text-anchor="middle" textLength="42.0" lengthAdjust="spacingAndGlyphs" fill="#111" stroke="#111" stroke-width="0.3">CRP (μg/ml)</text>
<line x1="234.2" y1="279.3" x2="245.2" y2="279.3" stroke="#1a1a1a" stroke-width="1.3"/>
<circle cx="239.70" cy="275.20" r="1.05" fill="#111"/>
<line x1="259.1" y1="255.2" x2="270.9" y2="255.2" stroke="#1a1a1a" stroke-width="1.3"/>
<circle cx="262.20" cy="251.10" r="1.05" fill="#111"/>
<circle cx="265.30" cy="251.10" r="1.05" fill="#111"/>
<circle cx="268.40" cy="251.10" r="1.05" fill="#111"/>
<line x1="286.5" y1="244.0" x2="297.9" y2="244.0" stroke="#1a1a1a" stroke-width="1.3"/>
<circle cx="289.00" cy="240.00" r="1.05" fill="#111"/>
<circle cx="292.10" cy="240.00" r="1.05" fill="#111"/>
<circle cx="295.20" cy="240.00" r="1.05" fill="#111"/>
<line x1="385.2" y1="160.1" x2="388.3" y2="160.1" stroke="#111" stroke-width="1.0"/>
<text x="381.7" y="163.0" font-size="8.5" text-anchor="end" textLength="4.6" lengthAdjust="spacingAndGlyphs" fill="#111" stroke="#111" stroke-width="0.12">0</text>
<line x1="385.2" y1="140.93" x2="388.3" y2="140.93" stroke="#111" stroke-width="1.0"/>
<text x="381.7" y="143.83" font-size="8.5" text-anchor="end" textLength="19.9" lengthAdjust="spacingAndGlyphs" fill="#111" stroke="#111" stroke-width="0.12">1000</text>
<line x1="385.2" y1="121.75999999999999" x2="388.3" y2="121.75999999999999" stroke="#111" stroke-width="1.0"/>
<text x="381.7" y="124.66" font-size="8.5" text-anchor="end" textLength="19.9" lengthAdjust="spacingAndGlyphs" fill="#111" stroke="#111" stroke-width="0.12">2000</text>
<line x1="385.2" y1="102.59" x2="388.3" y2="102.59" stroke="#111" stroke-width="1.0"/>
<text x="381.7" y="105.49000000000001" font-size="8.5" text-anchor="end" textLength="19.9" lengthAdjust="spacingAndGlyphs" fill="#111" stroke="#111" stroke-width="0.12">3000</text>
<line x1="385.2" y1="83.42" x2="388.3" y2="83.42" stroke="#111" stroke-width="1.0"/>
<text x="381.7" y="86.32000000000001" font-size="8.5" text-anchor="end" textLength="19.9" lengthAdjust="spacingAndGlyphs" fill="#111" stroke="#111" stroke-width="0.12">4000</text>
<line x1="385.2" y1="64.25" x2="388.3" y2="64.25" stroke="#111" stroke-width="1.0"/>
<text x="381.7" y="67.15" font-size="8.5" text-anchor="end" textLength="19.9" lengthAdjust="spacingAndGlyphs" fill="#111" stroke="#111" stroke-width="0.12">5000</text>
<line x1="385.2" y1="45.08" x2="388.3" y2="45.08" stroke="#111" stroke-width="1.0"/>
<text x="381.7" y="47.98" font-size="8.5" text-anchor="end" textLength="19.9" lengthAdjust="spacingAndGlyphs" fill="#111" stroke="#111" stroke-width="0.12">6000</text>
<text transform="translate(355.59999999999997,101.2) rotate(-90)" x="0" y="0" font-size="9.6" text-anchor="middle" textLength="66.8" lengthAdjust="spacingAndGlyphs" fill="#111" stroke="#111" stroke-width="0.3">JON/A binding (MFI)</text>
<rect x="390.80" y="45.10" width="9.20" height="7.00" fill="#a4002b" stroke="#970027" stroke-width="0.8"/>
<rect x="390.80" y="57.20" width="9.20" height="7.00" fill="#2e4a7d" stroke="#1f386b" stroke-width="0.8"/>
<text x="403.8" y="51.1" font-size="8.5" textLength="12.0" lengthAdjust="spacingAndGlyphs" fill="#111" stroke="#111" stroke-width="0.12">WT</text>
<text x="403.8" y="63.400000000000006" font-size="8.5" textLength="11.3" lengthAdjust="spacingAndGlyphs" fill="#111" stroke="#111" stroke-width="0.12">KO</text>
<rect x="390.45" y="151.40" width="8.05" height="8.70" fill="#a4002b" stroke="#970027" stroke-width="0.8"/>
<rect x="400.05" y="153.40" width="7.65" height="6.70" fill="#2e4a7d" stroke="#1f386b" stroke-width="0.8"/>
<line x1="394.5" y1="149.4" x2="394.5" y2="151.0" stroke="#111" stroke-width="1.1"/>
<line x1="392.2" y1="149.4" x2="396.8" y2="149.4" stroke="#111" stroke-width="1.3"/>
<line x1="403.90000000000003" y1="151.2" x2="403.90000000000003" y2="153.0" stroke="#111" stroke-width="1.1"/>
<line x1="401.6" y1="151.2" x2="406.20000000000005" y2="151.2" stroke="#111" stroke-width="1.3"/>
<line x1="399.1" y1="160.1" x2="399.1" y2="163.4" stroke="#333" stroke-width="1.2"/>
<rect x="410.05" y="124.40" width="8.05" height="35.70" fill="#a4002b" stroke="#970027" stroke-width="0.8"/>
<rect x="419.65" y="129.50" width="7.65" height="30.60" fill="#2e4a7d" stroke="#1f386b" stroke-width="0.8"/>
<line x1="414.09999999999997" y1="116.4" x2="414.09999999999997" y2="124.0" stroke="#111" stroke-width="1.1"/>
<line x1="411.79999999999995" y1="116.4" x2="416.4" y2="116.4" stroke="#111" stroke-width="1.3"/>
<line x1="423.5" y1="121.4" x2="423.5" y2="129.1" stroke="#111" stroke-width="1.1"/>
<line x1="421.2" y1="121.4" x2="425.8" y2="121.4" stroke="#111" stroke-width="1.3"/>
<line x1="418.7" y1="160.1" x2="418.7" y2="163.4" stroke="#333" stroke-width="1.2"/>
<rect x="429.75" y="124.40" width="8.05" height="35.70" fill="#a4002b" stroke="#970027" stroke-width="0.8"/>
<rect x="439.35" y="149.70" width="7.65" height="10.40" fill="#2e4a7d" stroke="#1f386b" stroke-width="0.8"/>
<line x1="433.79999999999995" y1="115.5" x2="433.79999999999995" y2="124.0" stroke="#111" stroke-width="1.1"/>
<line x1="431.49999999999994" y1="115.5" x2="436.09999999999997" y2="115.5" stroke="#111" stroke-width="1.3"/>
<line x1="443.2" y1="146.8" x2="443.2" y2="149.3" stroke="#111" stroke-width="1.1"/>
<line x1="440.9" y1="146.8" x2="445.5" y2="146.8" stroke="#111" stroke-width="1.3"/>
<line x1="438.4" y1="160.1" x2="438.4" y2="163.4" stroke="#333" stroke-width="1.2"/>
<rect x="449.35" y="75.60" width="8.05" height="84.50" fill="#a4002b" stroke="#970027" stroke-width="0.8"/>
<rect x="458.95" y="78.10" width="7.65" height="82.00" fill="#2e4a7d" stroke="#1f386b" stroke-width="0.8"/>
<line x1="453.4" y1="68.2" x2="453.4" y2="75.2" stroke="#111" stroke-width="1.1"/>
<line x1="451.09999999999997" y1="68.2" x2="455.7" y2="68.2" stroke="#111" stroke-width="1.3"/>
<line x1="462.8" y1="70.6" x2="462.8" y2="77.7" stroke="#111" stroke-width="1.1"/>
<line x1="460.5" y1="70.6" x2="465.1" y2="70.6" stroke="#111" stroke-width="1.3"/>
<line x1="458.0" y1="160.1" x2="458.0" y2="163.4" stroke="#333" stroke-width="1.2"/>
<rect x="469.25" y="146.10" width="8.05" height="14.00" fill="#a4002b" stroke="#970027" stroke-width="0.8"/>
<rect x="478.85" y="147.10" width="7.65" height="13.00" fill="#2e4a7d" stroke="#1f386b" stroke-width="0.8"/>
<line x1="473.29999999999995" y1="144.3" x2="473.29999999999995" y2="145.7" stroke="#111" stroke-width="1.1"/>
<line x1="470.99999999999994" y1="144.3" x2="475.59999999999997" y2="144.3" stroke="#111" stroke-width="1.3"/>
<line x1="482.7" y1="145.2" x2="482.7" y2="146.7" stroke="#111" stroke-width="1.1"/>
<line x1="480.4" y1="145.2" x2="485.0" y2="145.2" stroke="#111" stroke-width="1.3"/>
<line x1="477.9" y1="160.1" x2="477.9" y2="163.4" stroke="#333" stroke-width="1.2"/>
<rect x="488.95" y="77.90" width="8.05" height="82.20" fill="#a4002b" stroke="#970027" stroke-width="0.8"/>
<rect x="498.55" y="74.50" width="7.65" height="85.60" fill="#2e4a7d" stroke="#1f386b" stroke-width="0.8"/>
<line x1="493.0" y1="72.4" x2="493.0" y2="77.5" stroke="#111" stroke-width="1.1"/>
<line x1="490.7" y1="72.4" x2="495.3" y2="72.4" stroke="#111" stroke-width="1.3"/>
<line x1="502.40000000000003" y1="67.3" x2="502.40000000000003" y2="74.1" stroke="#111" stroke-width="1.1"/>
<line x1="500.1" y1="67.3" x2="504.70000000000005" y2="67.3" stroke="#111" stroke-width="1.3"/>
<line x1="497.6" y1="160.1" x2="497.6" y2="163.4" stroke="#333" stroke-width="1.2"/>
<line x1="388.3" y1="42.2" x2="388.3" y2="160.7" stroke="#111" stroke-width="1.3"/>
<line x1="385.4" y1="160.1" x2="511.8" y2="160.1" stroke="#111" stroke-width="1.3"/>
<line x1="433.2" y1="111.5" x2="442.4" y2="111.5" stroke="#1a1a1a" stroke-width="1.3"/>
<circle cx="436.32" cy="107.40" r="1.05" fill="#111"/>
<circle cx="439.27" cy="107.40" r="1.05" fill="#111"/>
<text transform="translate(402.50,170.30) rotate(-45)" font-size="8.6" text-anchor="end" fill="#111">Basal</text>
<text transform="translate(422.10,170.30) rotate(-45)" font-size="8.6" text-anchor="end" fill="#111">ADP</text>
<text transform="translate(441.80,170.30) rotate(-45)" font-size="8.6" text-anchor="end" fill="#111">CRP</text>
<text transform="translate(461.40,170.30) rotate(-45)" font-size="8.6" text-anchor="end" fill="#111">CRP + ADP</text>
<text transform="translate(481.30,170.30) rotate(-45)" font-size="8.6" text-anchor="end" fill="#111">U46619</text>
<text transform="translate(501.00,170.30) rotate(-45)" font-size="8.6" text-anchor="end" fill="#111">ADP+U46619</text>
<line x1="385.2" y1="354.6" x2="388.3" y2="354.6" stroke="#111" stroke-width="1.0"/>
<text x="381.7" y="357.5" font-size="8.5" text-anchor="end" textLength="4.6" lengthAdjust="spacingAndGlyphs" fill="#111" stroke="#111" stroke-width="0.12">0</text>
<line x1="385.2" y1="325.82000000000005" x2="388.3" y2="325.82000000000005" stroke="#111" stroke-width="1.0"/>
<text x="381.7" y="328.72" font-size="8.5" text-anchor="end" textLength="14.6" lengthAdjust="spacingAndGlyphs" fill="#111" stroke="#111" stroke-width="0.12">200</text>
<line x1="385.2" y1="297.04" x2="388.3" y2="297.04" stroke="#111" stroke-width="1.0"/>
<text x="381.7" y="299.94" font-size="8.5" text-anchor="end" textLength="14.6" lengthAdjust="spacingAndGlyphs" fill="#111" stroke="#111" stroke-width="0.12">400</text>
<line x1="385.2" y1="268.26" x2="388.3" y2="268.26" stroke="#111" stroke-width="1.0"/>
<text x="381.7" y="271.15999999999997" font-size="8.5" text-anchor="end" textLength="14.6" lengthAdjust="spacingAndGlyphs" fill="#111" stroke="#111" stroke-width="0.12">600</text>
<line x1="385.2" y1="239.48000000000002" x2="388.3" y2="239.48000000000002" stroke="#111" stroke-width="1.0"/>
<text x="381.7" y="242.38000000000002" font-size="8.5" text-anchor="end" textLength="14.6" lengthAdjust="spacingAndGlyphs" fill="#111" stroke="#111" stroke-width="0.12">800</text>
<text transform="translate(359.2,295.5) rotate(-90)" x="0" y="0" font-size="9.6" text-anchor="middle" textLength="72.5" lengthAdjust="spacingAndGlyphs" fill="#111" stroke="#111" stroke-width="0.3">CD62P exposure (MFI)</text>
<rect x="390.80" y="239.20" width="9.20" height="7.00" fill="#a4002b" stroke="#970027" stroke-width="0.8"/>
<rect x="390.80" y="251.30" width="9.20" height="7.00" fill="#2e4a7d" stroke="#1f386b" stroke-width="0.8"/>
<text x="403.8" y="245.20000000000002" font-size="8.5" textLength="12.0" lengthAdjust="spacingAndGlyphs" fill="#111" stroke="#111" stroke-width="0.12">WT</text>
<text x="403.8" y="257.5" font-size="8.5" textLength="11.3" lengthAdjust="spacingAndGlyphs" fill="#111" stroke="#111" stroke-width="0.12">KO</text>
<rect x="390.85" y="344.20" width="8.05" height="10.40" fill="#a4002b" stroke="#970027" stroke-width="0.8"/>
<rect x="400.45" y="345.10" width="7.65" height="9.50" fill="#2e4a7d" stroke="#1f386b" stroke-width="0.8"/>
<line x1="394.9" y1="342.7" x2="394.9" y2="343.8" stroke="#111" stroke-width="1.1"/>
<line x1="392.59999999999997" y1="342.7" x2="397.2" y2="342.7" stroke="#111" stroke-width="1.3"/>
<line x1="404.3" y1="343.6" x2="404.3" y2="344.7" stroke="#111" stroke-width="1.1"/>
<line x1="402.0" y1="343.6" x2="406.6" y2="343.6" stroke="#111" stroke-width="1.3"/>
<line x1="399.5" y1="354.6" x2="399.5" y2="357.90000000000003" stroke="#333" stroke-width="1.2"/>
<rect x="410.95" y="342.30" width="8.05" height="12.30" fill="#a4002b" stroke="#970027" stroke-width="0.8"/>
<rect x="420.55" y="341.90" width="7.65" height="12.70" fill="#2e4a7d" stroke="#1f386b" stroke-width="0.8"/>
<line x1="415.0" y1="340.5" x2="415.0" y2="341.9" stroke="#111" stroke-width="1.1"/>
<line x1="412.7" y1="340.5" x2="417.3" y2="340.5" stroke="#111" stroke-width="1.3"/>
<line x1="424.40000000000003" y1="339.4" x2="424.40000000000003" y2="341.5" stroke="#111" stroke-width="1.1"/>
<line x1="422.1" y1="339.4" x2="426.70000000000005" y2="339.4" stroke="#111" stroke-width="1.3"/>
<line x1="419.6" y1="354.6" x2="419.6" y2="357.90000000000003" stroke="#333" stroke-width="1.2"/>
<rect x="431.25" y="330.50" width="8.05" height="24.10" fill="#a4002b" stroke="#970027" stroke-width="0.8"/>
<rect x="440.85" y="344.20" width="7.65" height="10.40" fill="#2e4a7d" stroke="#1f386b" stroke-width="0.8"/>
<line x1="435.29999999999995" y1="326.0" x2="435.29999999999995" y2="330.1" stroke="#111" stroke-width="1.1"/>
<line x1="432.99999999999994" y1="326.0" x2="437.59999999999997" y2="326.0" stroke="#111" stroke-width="1.3"/>
<line x1="444.7" y1="342.9" x2="444.7" y2="343.8" stroke="#111" stroke-width="1.1"/>
<line x1="442.4" y1="342.9" x2="447.0" y2="342.9" stroke="#111" stroke-width="1.3"/>
<line x1="439.9" y1="354.6" x2="439.9" y2="357.90000000000003" stroke="#333" stroke-width="1.2"/>
<rect x="451.35" y="261.50" width="8.05" height="93.10" fill="#a4002b" stroke="#970027" stroke-width="0.8"/>
<rect x="460.95" y="309.10" width="7.65" height="45.50" fill="#2e4a7d" stroke="#1f386b" stroke-width="0.8"/>
<line x1="455.4" y1="259.7" x2="455.4" y2="261.1" stroke="#111" stroke-width="1.1"/>
<line x1="453.09999999999997" y1="259.7" x2="457.7" y2="259.7" stroke="#111" stroke-width="1.3"/>
<line x1="464.8" y1="301.9" x2="464.8" y2="308.7" stroke="#111" stroke-width="1.1"/>
<line x1="462.5" y1="301.9" x2="467.1" y2="301.9" stroke="#111" stroke-width="1.3"/>
<line x1="460.0" y1="354.6" x2="460.0" y2="357.90000000000003" stroke="#333" stroke-width="1.2"/>
<rect x="471.55" y="344.80" width="8.05" height="9.80" fill="#a4002b" stroke="#970027" stroke-width="0.8"/>
<rect x="481.15" y="345.10" width="7.65" height="9.50" fill="#2e4a7d" stroke="#1f386b" stroke-width="0.8"/>
<line x1="475.59999999999997" y1="342.7" x2="475.59999999999997" y2="344.4" stroke="#111" stroke-width="1.1"/>
<line x1="473.29999999999995" y1="342.7" x2="477.9" y2="342.7" stroke="#111" stroke-width="1.3"/>
<line x1="485.0" y1="343.5" x2="485.0" y2="344.7" stroke="#111" stroke-width="1.1"/>
<line x1="482.7" y1="343.5" x2="487.3" y2="343.5" stroke="#111" stroke-width="1.3"/>
<line x1="480.2" y1="354.6" x2="480.2" y2="357.90000000000003" stroke="#333" stroke-width="1.2"/>
<rect x="491.75" y="280.50" width="8.05" height="74.10" fill="#a4002b" stroke="#970027" stroke-width="0.8"/>
<rect x="501.35" y="329.80" width="7.65" height="24.80" fill="#2e4a7d" stroke="#1f386b" stroke-width="0.8"/>
<line x1="495.79999999999995" y1="266.2" x2="495.79999999999995" y2="280.1" stroke="#111" stroke-width="1.1"/>
<line x1="493.49999999999994" y1="266.2" x2="498.09999999999997" y2="266.2" stroke="#111" stroke-width="1.3"/>
<line x1="505.2" y1="322.3" x2="505.2" y2="329.4" stroke="#111" stroke-width="1.1"/>
<line x1="502.9" y1="322.3" x2="507.5" y2="322.3" stroke="#111" stroke-width="1.3"/>
<line x1="500.4" y1="354.6" x2="500.4" y2="357.90000000000003" stroke="#333" stroke-width="1.2"/>
<line x1="388.3" y1="236.5" x2="388.3" y2="355.20000000000005" stroke="#111" stroke-width="1.3"/>
<line x1="385.4" y1="354.6" x2="511.8" y2="354.6" stroke="#111" stroke-width="1.3"/>
<line x1="434.5" y1="321.6" x2="445.8" y2="321.6" stroke="#1a1a1a" stroke-width="1.3"/>
<circle cx="440.15" cy="317.50" r="1.05" fill="#111"/>
<line x1="454.3" y1="256.0" x2="465.7" y2="256.0" stroke="#1a1a1a" stroke-width="1.3"/>
<circle cx="455.57" cy="251.90" r="1.05" fill="#111"/>
<circle cx="458.52" cy="251.90" r="1.05" fill="#111"/>
<circle cx="461.47" cy="251.90" r="1.05" fill="#111"/>
<circle cx="464.43" cy="251.90" r="1.05" fill="#111"/>
<line x1="496.0" y1="263.1" x2="507.4" y2="263.1" stroke="#1a1a1a" stroke-width="1.3"/>
<circle cx="497.27" cy="259.00" r="1.05" fill="#111"/>
<circle cx="500.22" cy="259.00" r="1.05" fill="#111"/>
<circle cx="503.17" cy="259.00" r="1.05" fill="#111"/>
<circle cx="506.12" cy="259.00" r="1.05" fill="#111"/>
<text transform="translate(402.90,364.60) rotate(-45)" font-size="8.6" text-anchor="end" fill="#111">Basal</text>
<text transform="translate(423.00,364.60) rotate(-45)" font-size="8.6" text-anchor="end" fill="#111">ADP</text>
<text transform="translate(443.30,364.60) rotate(-45)" font-size="8.6" text-anchor="end" fill="#111">CRP</text>
<text transform="translate(463.40,364.60) rotate(-45)" font-size="8.6" text-anchor="end" fill="#111">CRP + ADP</text>
<text transform="translate(483.60,364.60) rotate(-45)" font-size="8.6" text-anchor="end" fill="#111">U46619</text>
<text transform="translate(503.80,364.60) rotate(-45)" font-size="8.6" text-anchor="end" fill="#111">ADP+U46619</text>
</svg>
</body></html>
